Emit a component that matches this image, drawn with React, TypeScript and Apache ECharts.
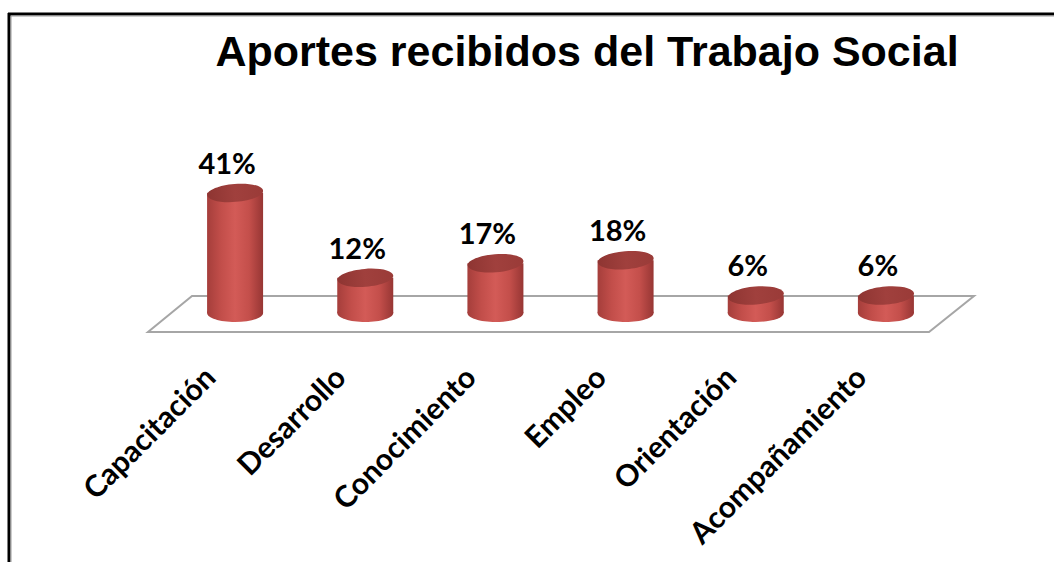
import React, { useEffect, useRef } from "react";
import * as echarts from "echarts";

const titleText = "Aportes recibidos del Trabajo Social";
const categories = ["Capacitación", "Desarrollo", "Conocimiento", "Empleo", "Orientación", "Acompañamiento"];
const values = [41, 12, 17, 18, 6, 6];

export default function App() {
  const ref = useRef<HTMLDivElement>(null);
  useEffect(() => {
    if (!ref.current) return;
    const chart = echarts.init(ref.current, null, { renderer: "svg" });
    const bodyGrad = () =>
      new echarts.graphic.LinearGradient(0, 0, 1, 0, [
        { offset: 0, color: "#a53e3b" },
        { offset: 0.25, color: "#c24e4a" },
        { offset: 0.5, color: "#d35b57" },
        { offset: 0.75, color: "#c44f4b" },
        { offset: 1, color: "#973634" },
      ]);
    const topGrad = () =>
      new echarts.graphic.LinearGradient(0, 0, 1, 0, [
        { offset: 0, color: "#8e3532" },
        { offset: 0.5, color: "#a0403d" },
        { offset: 1, color: "#9a3b38" },
      ]);
    const renderItem = (params: any, api: any) => {
      const i = api.value(0);
      const v = api.value(1);
      const top = api.coord([i, v]);
      const base = api.coord([i, 0]);
      const cx = top[0];
      const rx = 28;
      const ry = 9;
      return {
        type: "group",
        children: [
          { type: "ellipse", shape: { cx, cy: base[1], rx, ry }, style: { fill: bodyGrad() } },
          {
            type: "rect",
            shape: { x: cx - rx, y: top[1], width: 2 * rx, height: base[1] - top[1] },
            style: { fill: bodyGrad() },
          },
          {
            type: "ellipse",
            shape: { cx, cy: top[1], rx, ry },
            originX: cx,
            originY: top[1],
            rotation: 0.08,
            style: { fill: topGrad() },
          },
          {
            type: "text",
            x: cx - 8,
            y: top[1] - 16,
            style: {
              text: v + "%",
              textAlign: "center",
              textVerticalAlign: "bottom",
              fontFamily: "Lato",
              fontWeight: "bold",
              fontSize: 29,
              fill: "#000",
            },
          },
        ],
      };
    };
    chart.setOption({
      animation: false,
      backgroundColor: "#fff",
      title: {
        text: titleText,
        left: 582,
        top: 24,
        textAlign: "center",
        textStyle: { fontFamily: "Liberation Sans, Arial", fontWeight: "bold", fontSize: 43, color: "#000" },
      },
      grid: [
        { left: 170, width: 781, top: 166.5, height: 146.5 },
        { left: 144, width: 781, top: 166.5, height: 146.5 },
      ],
      xAxis: [
        { gridIndex: 0, type: "category", data: categories, show: false },
        {
          gridIndex: 1,
          type: "category",
          data: categories,
          axisLine: { show: false },
          axisTick: { show: false },
          axisLabel: {
            interval: 0,
            rotate: 45,
            margin: 58,
            fontFamily: "Lato",
            fontWeight: "bold",
            fontSize: 30,
            color: "#000",
          },
        },
      ],
      yAxis: [
        { gridIndex: 0, type: "value", min: 0, max: 50, show: false },
        { gridIndex: 1, type: "value", min: 0, max: 50, show: false },
      ],
      graphic: [
        {
          type: "polygon",
          z: 0,
          shape: { points: [[192, 296], [974, 296], [929, 332], [148, 332]] },
          style: { fill: "#fff", stroke: "#a6a6a6", lineWidth: 2 },
        },
        { type: "line", shape: { x1: 8, y1: 14, x2: 1054, y2: 14 }, style: { stroke: "#000", lineWidth: 3 } },
        { type: "line", shape: { x1: 10, y1: 16, x2: 1054, y2: 16 }, style: { stroke: "#999", lineWidth: 1 } },
        { type: "line", shape: { x1: 9, y1: 13, x2: 9, y2: 562 }, style: { stroke: "#000", lineWidth: 3 } },
        { type: "line", shape: { x1: 11, y1: 16, x2: 11, y2: 562 }, style: { stroke: "#999", lineWidth: 1 } },
      ],
      series: [
        {
          type: "custom",
          xAxisIndex: 0,
          yAxisIndex: 0,
          z: 10,
          data: values.map((v, i) => [i, v]),
          renderItem,
        },
      ],
    });
    return () => chart.dispose();
  }, []);
  return <div ref={ref} style={{ position: "absolute", left: 0, top: 0, width: 1054, height: 562 }} />;
}
